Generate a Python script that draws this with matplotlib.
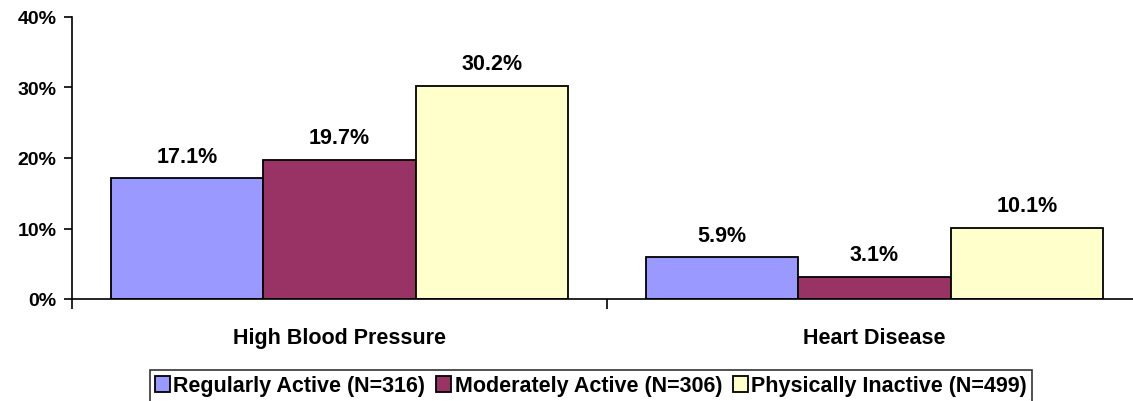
import matplotlib
matplotlib.use("Agg")
import matplotlib.pyplot as plt
from matplotlib.ticker import FixedLocator, FuncFormatter
import numpy as np

categories = ["High Blood Pressure", "Heart Disease"]
series_names = ["Regularly Active (N=316)", "Moderately Active (N=306)", "Physically Inactive (N=499)"]
regularly_active = [17.1, 5.9]
moderately_active = [19.7, 3.1]
physically_inactive = [30.2, 10.1]
y_ticks = [0, 10, 20, 30, 40]

series_values = [regularly_active, moderately_active, physically_inactive]
colors = ["#9999FF", "#993366", "#FFFFCC"]

plt.rcParams['font.family'] = ['Liberation Sans', 'DejaVu Sans']
plt.rcParams['font.weight'] = 'bold'

W, H = 1133, 402
fig = plt.figure(figsize=(W / 100, H / 100), dpi=100)
ax = fig.add_axes([72 / W, 102 / H, 1070 / W, 282 / H])

x = np.arange(len(categories))
bw = 0.285
handles = []
for i, (vals, c) in enumerate(zip(series_values, colors)):
    pos = x + (i - 1) * bw
    b = ax.bar(pos, vals, width=bw, color=c, edgecolor="black", linewidth=1.3, label=series_names[i], zorder=2)
    handles.append(b)
    for p, v in zip(pos, vals):
        ax.annotate(f"{v:.1f}%", (p, v), xytext=(0, 12), textcoords="offset points",
                    ha="center", va="baseline", fontsize=15.5, fontweight="bold")

ax.set_xlim(-0.5, len(categories) - 0.5)
ax.set_ylim(0, 40)
ax.yaxis.set_major_locator(FixedLocator(y_ticks))
ax.yaxis.set_major_formatter(FuncFormatter(lambda v, p: f"{v:.0f}%"))
ax.tick_params(axis="y", direction="out", length=6, width=1.2, pad=5, labelsize=14)
for lab in ax.get_yticklabels():
    lab.set_fontweight("bold")

ax.set_xticks(x)
ax.set_xticklabels(categories, fontsize=15.5, fontweight="bold")
ax.tick_params(axis="x", which="major", length=0, pad=20)
ax.set_xticks(np.arange(len(categories) + 1) - 0.5, minor=True)
ax.tick_params(axis="x", which="minor", direction="out", length=7, width=1.2)

for s in ["top", "right"]:
    ax.spines[s].set_visible(False)
for s in ["left", "bottom"]:
    ax.spines[s].set_linewidth(1.2)
    ax.spines[s].set_color("black")

leg = fig.legend(handles=handles, labels=series_names, loc="center",
                 bbox_to_anchor=(591 / W, 1 - 387 / H), ncol=3, frameon=True, fancybox=False,
                 edgecolor="black", prop={"weight": "bold", "size": 15.5},
                 handlelength=0.7, handleheight=0.7, handletextpad=0.15, columnspacing=0.5,
                 borderpad=0.25, borderaxespad=0)
leg.get_frame().set_linewidth(1.2)

fig.savefig("out.png", dpi=100)
